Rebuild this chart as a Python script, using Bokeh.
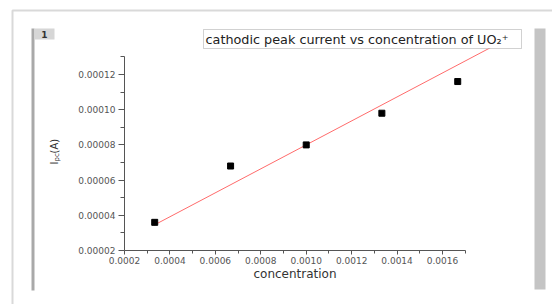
import math
from bokeh.plotting import figure
from bokeh.models import Range1d, FixedTicker, PrintfTickFormatter, BoxAnnotation, Label
from bokeh.embed import file_html
from bokeh.resources import INLINE

# ---- data ----
concentration = [0.000333, 0.000667, 0.001, 0.001333, 0.001667]
peak_current = [0.000036, 0.000068, 0.000080, 0.000098, 0.000116]
fit_x = [0.00033, 0.0019]
fit_y = [0.0000344, 0.0001413]
x_major = [0.0002, 0.0004, 0.0006, 0.0008, 0.0010, 0.0012, 0.0014, 0.0016]
x_minor = [0.0003, 0.0005, 0.0007, 0.0009, 0.0011, 0.0013, 0.0015, 0.0017]
y_major = [0.00002, 0.00004, 0.00006, 0.00008, 0.00010, 0.00012]
y_minor = [0.00003, 0.00005, 0.00007, 0.00009, 0.00011, 0.00013]
x_axis_bounds = (0.0002, 0.0017)
y_axis_bounds = (0.00002, 0.00013)
title_text = "cathodic peak current vs concentration of UO\u2082\u207a"
x_label = "concentration"
y_label_main = "I"
y_label_sub = "pc"
y_label_unit = "(A)"
tab_text = "1"

FONT = "DejaVu Sans"
W, H = 552, 304
# page pixel of the axes origin and scale (px per data unit)
OX, OY = 124, 250
KX, KY = 227150.0, 1.76e6

x0 = x_axis_bounds[0] - OX / KX
x1 = x_axis_bounds[0] + (W - OX) / KX
y0 = y_axis_bounds[0] - (H - OY) / KY
y1 = y_axis_bounds[0] + OY / KY

p = figure(width=W, height=H, output_backend="svg", toolbar_location=None,
           x_range=Range1d(x0, x1), y_range=Range1d(y0, y1), min_border=0)
p.outline_line_color = None
p.xgrid.visible = False
p.ygrid.visible = False
p.background_fill_color = "white"
p.border_fill_color = "white"

AXC = "#555555"

# axes (fixed at the data origin so that they take no border space)
xa = p.xaxis[0]
xa.fixed_location = y_axis_bounds[0]
xa.bounds = x_axis_bounds
xa.ticker = FixedTicker(ticks=x_major, minor_ticks=x_minor)
xa.formatter = PrintfTickFormatter(format="%.4f")
xa.axis_label = x_label
xa.axis_label_text_font = FONT
xa.axis_label_text_font_size = "12px"
xa.axis_label_text_font_style = "normal"
xa.axis_label_text_color = "#333333"
xa.axis_label_standoff = 0
xa.major_label_text_font = FONT
xa.major_label_text_font_size = "9px"
xa.major_label_text_color = AXC
xa.major_label_standoff = 2
xa.major_tick_out = 4
xa.major_tick_in = 0
xa.minor_tick_out = 3
xa.minor_tick_in = 0
xa.axis_line_color = AXC
xa.major_tick_line_color = AXC
xa.minor_tick_line_color = AXC

ya = p.yaxis[0]
ya.fixed_location = x_axis_bounds[0]
ya.bounds = y_axis_bounds
ya.ticker = FixedTicker(ticks=y_major, minor_ticks=y_minor)
ya.formatter = PrintfTickFormatter(format="%.5f")
ya.major_label_text_font = FONT
ya.major_label_text_font_size = "9px"
ya.major_label_text_color = AXC
ya.major_label_standoff = 3
ya.major_label_orientation = "horizontal"
ya.major_tick_out = 6
ya.major_tick_in = 0
ya.minor_tick_out = 4
ya.minor_tick_in = 0
ya.axis_line_color = AXC
ya.major_tick_line_color = AXC
ya.minor_tick_line_color = AXC


# decorations (screen units, page pixels)
def box(l, r, t, b, fill=None, line=None, lw=1):
    ba = BoxAnnotation(left=l, right=r, top=H - t, bottom=H - b,
                       left_units="screen", right_units="screen",
                       top_units="screen", bottom_units="screen",
                       fill_color=fill if fill else "white", fill_alpha=1.0 if fill else 0.0,
                       line_color=line if line else "white", line_width=lw,
                       line_alpha=1.0 if line else 0.0, level="underlay")
    p.add_layout(ba)
    return ba


box(12, 620, 10, 340, fill=None, line="#d9d9d9", lw=2)
box(31, 34, 28, 290, fill="#a9a9a9")
box(34, 54, 28, 39, fill="#d6d6d6")
box(534, 545, 28, 289, fill="#c4c4c4")

# data
p.line(fit_x, fit_y, line_color="#ff6b6b", line_width=1)
p.scatter(concentration, peak_current, marker="square", size=6,
          fill_color="black", line_color="black")

# title box drawn over the fit line
tb = BoxAnnotation(left=203, right=521, top=H - 29, bottom=H - 48,
                   left_units="screen", right_units="screen",
                   top_units="screen", bottom_units="screen",
                   fill_color="white", fill_alpha=1.0, line_color="#666666", line_width=1)
p.add_layout(tb)


def label(x, y, text, size, **kw):
    opts = dict(text_font=FONT, text_color="#333333", text_align="left",
                text_baseline="middle")
    opts.update(kw)
    p.add_layout(Label(x=x, y=H - y, x_units="screen", y_units="screen",
                       text=text, text_font_size=size, **opts))


label(44, 33.5, tab_text, "9px", text_font_style="bold", text_align="center")
label(205, 38.5, title_text, "12.8px", text_color="#222222")

# y axis label: I_pc (A), rotated
label(54, 164, y_label_main, "10px", angle=math.pi / 2)
label(56.5, 161, y_label_sub, "7px", angle=math.pi / 2)
label(54, 153, y_label_unit, "10px", angle=math.pi / 2)

open("out.html", "w").write(file_html(p, INLINE))
